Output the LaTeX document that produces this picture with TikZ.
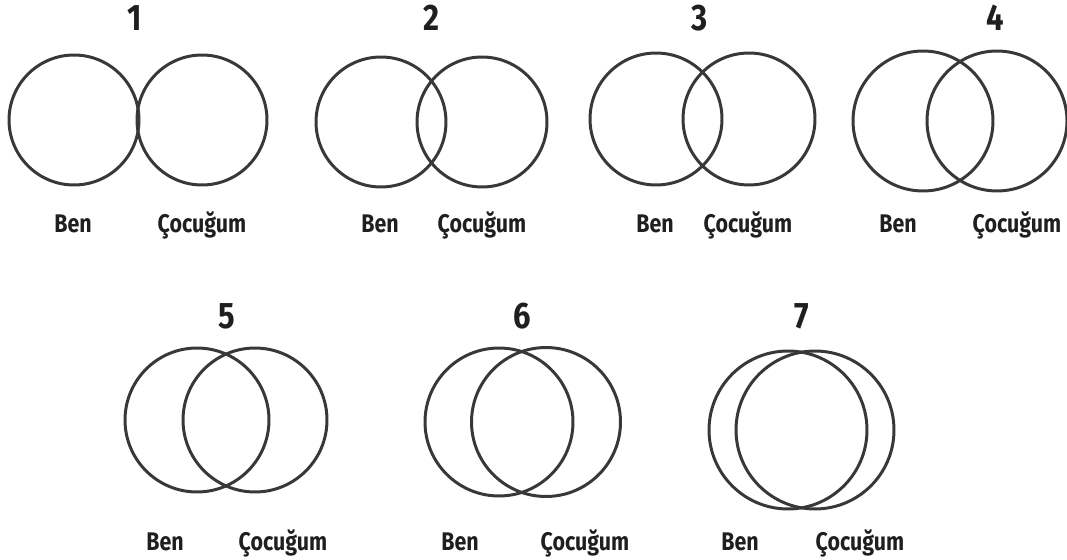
\documentclass[tikz,border=0pt]{standalone}
\usepackage{fontspec}
\setmainfont{Fira Sans}
\newfontfamily\lblfont[FakeStretch=0.84]{Fira Sans}
\usetikzlibrary{positioning}
\tikzset{
  ring/.style={circle, draw=black!78, line width=1.7pt, inner sep=0pt},
  stage/.style={anchor=base, text=black!88, font=\lblfont\bfseries\fontsize{21}{21}\selectfont},
  who/.style={anchor=base, text=black!88, font=\lblfont\bfseries\fontsize{14.5}{15}\selectfont}
}

\begin{document}
\begin{tikzpicture}[x=0.02cm, y=-0.02cm]
  \useasboundingbox (0,0) rectangle (1067,560);
  % first row
  \node[ring, minimum size=2.6cm] (ben1) at (74,120) {};
  \node[ring, minimum size=2.6cm] (cocuk1) at (202,120) {};
  \node[ring, minimum size=2.6cm] (ben2) at (381,122) {};
  \node[ring, minimum size=2.6cm] (cocuk2) at (482,122) {};
  \node[ring, minimum size=2.64cm] (ben3) at (656,119) {};
  \node[ring, minimum size=2.64cm] (cocuk3) at (749,119) {};
  \node[ring, minimum size=2.8cm] (ben4) at (923,121) {};
  \node[ring, minimum size=2.8cm] (cocuk4) at (997,121) {};
  % second row
  \node[ring, minimum size=2.88cm] (ben5) at (197,420) {};
  \node[ring, minimum size=2.88cm] (cocuk5) at (255,420) {};
  \node[ring, minimum size=2.96cm] (ben6) at (499,422) {};
  \node[ring, minimum size=2.98cm] (cocuk6) at (546,422) {};
  \node[ring, minimum size=3.16cm] (ben7) at (788,430) {};
  \node[ring, minimum size=3.16cm] (cocuk7) at (815,430) {};
  % numbers
  \node[stage] (n1) at (135,31) {1};
  \node[stage] (n2) at (432,31) {2};
  \node[stage] (n3) at (700,31) {3};
  \node[stage] (n4) at (995,31) {4};
  \node[stage] (n5) at (227,328) {5};
  \node[stage] (n6) at (522,328) {6};
  \node[stage] (n7) at (802,328) {7};
  % names
  \node[who] (lb1) at (73,233) {Ben};
  \node[who] (lc1) at (202,233) {Çocuğum};
  \node[who] (lb2) at (380,233) {Ben};
  \node[who] (lc2) at (482,233) {Çocuğum};
  \node[who] (lb3) at (655,233) {Ben};
  \node[who] (lc3) at (748,233) {Çocuğum};
  \node[who] (lb4) at (898,233) {Ben};
  \node[who] (lc4) at (1017,233) {Çocuğum};
  \node[who] (lb5) at (165,550) {Ben};
  \node[who] (lc5) at (283,550) {Çocuğum};
  \node[who] (lb6) at (460,550) {Ben};
  \node[who] (lc6) at (585,550) {Çocuğum};
  \node[who] (lb7) at (740,550) {Ben};
  \node[who] (lc7) at (860,550) {Çocuğum};
\end{tikzpicture}
\end{document}
